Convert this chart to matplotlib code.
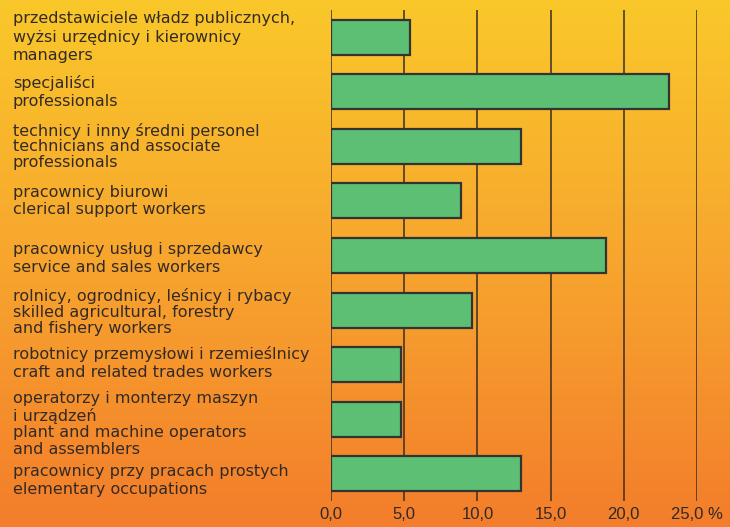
import numpy as np
import matplotlib
matplotlib.use("Agg")
import matplotlib.pyplot as plt
from matplotlib.colors import LinearSegmentedColormap
from matplotlib.transforms import blended_transform_factory, offset_copy

# occupation groups (PL + EN), top to bottom
labels = [
    "przedstawiciele władz publicznych,\nwyżsi urzędnicy i kierownicy\nmanagers",
    "specjaliści\nprofessionals",
    "technicy i inny średni personel\ntechnicians and associate\nprofessionals",
    "pracownicy biurowi\nclerical support workers",
    "pracownicy usług i sprzedawcy\nservice and sales workers",
    "rolnicy, ogrodnicy, leśnicy i rybacy\nskilled agricultural, forestry\nand fishery workers",
    "robotnicy przemysłowi i rzemieślnicy\ncraft and related trades workers",
    "operatorzy i monterzy maszyn\ni urządzeń\nplant and machine operators\nand assemblers",
    "pracownicy przy pracach prostych\nelementary occupations",
]
values = [5.4, 23.1, 13.0, 8.9, 18.8, 9.6, 4.8, 4.8, 13.0]
ticks = [0, 5, 10, 15, 20, 25]
tick_labels = ["0,0", "5,0", "10,0", "15,0", "20,0", "25,0 %"]

# small vertical nudges of the label blocks (pixels, + = down) and line spacing
label_dy = [0, 0, 0, 0, 3, 2, -2, 5, 7]
label_ls = [1.3, 1.2, 1.05, 1.2, 1.25, 1.1, 1.25, 1.12, 1.25]

W, H = 730, 527
fig = plt.figure(figsize=(W / 100, H / 100), dpi=100)

# background gradient yellow -> orange
bg = fig.add_axes([0, 0, 1, 1], zorder=-10)
cmap = LinearSegmentedColormap.from_list(
    "bg", ["#fac82a", "#f7a52e", "#f37d2b"])
grad = np.linspace(0, 1, 256).reshape(-1, 1)
bg.imshow(grad, aspect="auto", cmap=cmap, extent=[0, 1, 0, 1])
bg.axis("off")

ax = fig.add_axes([331 / W, 1 - 501 / H, (697 - 331) / W, (501 - 10) / H])
ax.patch.set_alpha(0)

y = np.arange(len(values))
ax.barh(y, values, height=0.64, color="#5cbf74", edgecolor="#333333",
        linewidth=1.6, zorder=3)
ax.set_ylim(len(values) - 0.5, -0.5)
ax.set_xlim(0, 25)

for t in ticks:
    ax.axvline(t, color="#3a2e22", linewidth=1.1, zorder=1)

for s in ax.spines.values():
    s.set_visible(False)
ax.set_yticks([])
ax.set_xticks(ticks)
ax.set_xticklabels(tick_labels, fontsize=12, color="#2e2a28",
                   fontfamily="Liberation Sans")
ax.tick_params(axis="x", length=0, pad=4)

tr = blended_transform_factory(fig.transFigure, ax.transData)
for i, lab in enumerate(labels):
    t = offset_copy(tr, fig=fig, x=0, y=-label_dy[i], units="dots")
    ax.text(13 / W, i, lab, transform=t, ha="left", va="center",
            fontsize=11.5, color="#332a26", linespacing=label_ls[i],
            fontfamily="DejaVu Sans")

fig.savefig("out.png", dpi=100)
